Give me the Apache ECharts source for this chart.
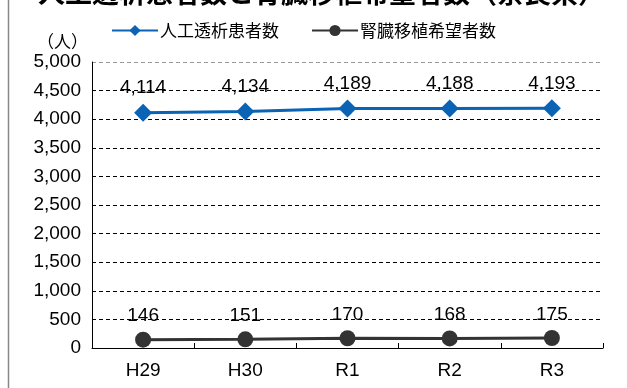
<!DOCTYPE html>
<html>
<head>
<meta charset="utf-8">
<script src="https://cdn.jsdelivr.net/npm/echarts@6/dist/echarts.min.js"></script>
<style>
  html, body { margin: 0; padding: 0; background: #fff; }
  #chart { width: 627px; height: 388px; }
</style>
</head>
<body>
<div id="chart"></div>
<script>
// 年度
var years = ['H29', 'H30', 'R1', 'R2', 'R3'];
// 人工透析患者数
var dialysis = [4114, 4134, 4189, 4188, 4193];
// 腎臓移植希望者数
var transplant = [146, 151, 170, 168, 175];

var FONT = '"Liberation Sans", "Noto Sans CJK JP", sans-serif';

var chart = echarts.init(document.getElementById('chart'));

// 一番上の 5,000 の線だけ灰色
var gridColors = [];
for (var i = 0; i < 11; i++) gridColors.push(i === 10 ? '#999' : '#000');

var option = {
  backgroundColor: '#fff',
  animation: false,
  textStyle: { fontFamily: FONT },
  graphic: [
    {
      type: 'line',
      shape: { x1: 8.5, y1: 0, x2: 8.5, y2: 388 },
      style: { stroke: '#888', lineWidth: 1.5 }
    },
    {
      type: 'text',
      left: 38,
      top: -21,
      style: {
        text: '人工透析患者数と腎臓移植希望者数（奈良県）',
        font: 'bold 27px "Noto Sans CJK JP"',
        fill: '#000'
      }
    }
  ],
  legend: {
    top: 17,
    left: 106,
    itemWidth: 46,
    itemHeight: 14,
    itemGap: 32,
    textStyle: { fontSize: 17, color: '#000', fontFamily: '"Noto Sans CJK JP"', padding: [0, 0, 0, -3] },
    data: ['人工透析患者数', '腎臓移植希望者数']
  },
  grid: { left: 92, right: 24, top: 62, bottom: 40 },
  xAxis: {
    type: 'category',
    data: years,
    boundaryGap: true,
    axisLine: { lineStyle: { color: '#000', width: 1 } },
    axisTick: { show: true, inside: true, length: 5, lineStyle: { color: '#000' } },
    axisLabel: { fontSize: 19, color: '#000', margin: 13 }
  },
  yAxis: {
    type: 'value',
    min: 0,
    max: 5000,
    interval: 500,
    name: '（人）',
    nameGap: 12,
    nameTextStyle: { fontSize: 17, color: '#000', align: 'right', padding: [0, 4, 0, 0], fontFamily: '"Noto Sans CJK JP"' },
    axisLine: { show: true, lineStyle: { color: '#000', width: 1 } },
    axisTick: { show: false },
    axisLabel: {
      fontSize: 19,
      color: '#000',
      margin: 11,
      formatter: function (v) { return v.toLocaleString('en-US'); }
    },
    splitLine: { show: true, lineStyle: { color: gridColors, type: [4, 3], width: 1 } }
  },
  series: [
    {
      name: '人工透析患者数',
      type: 'line',
      data: dialysis,
      symbol: 'diamond',
      symbolSize: 18,
      itemStyle: { color: '#0a63b5' },
      lineStyle: { color: '#0a63b5', width: 3 },
      label: {
        show: true,
        position: 'top',
        distance: 6,
        fontSize: 19,
        color: '#000',
        formatter: function (p) { return p.value.toLocaleString('en-US'); }
      }
    },
    {
      name: '腎臓移植希望者数',
      type: 'line',
      data: transplant,
      symbol: 'circle',
      symbolSize: 16,
      itemStyle: { color: '#333' },
      lineStyle: { color: '#333', width: 3 },
      label: {
        show: true,
        position: 'top',
        distance: 6,
        fontSize: 19,
        color: '#000'
      }
    }
  ]
};

chart.setOption(option);
</script>
</body>
</html>
